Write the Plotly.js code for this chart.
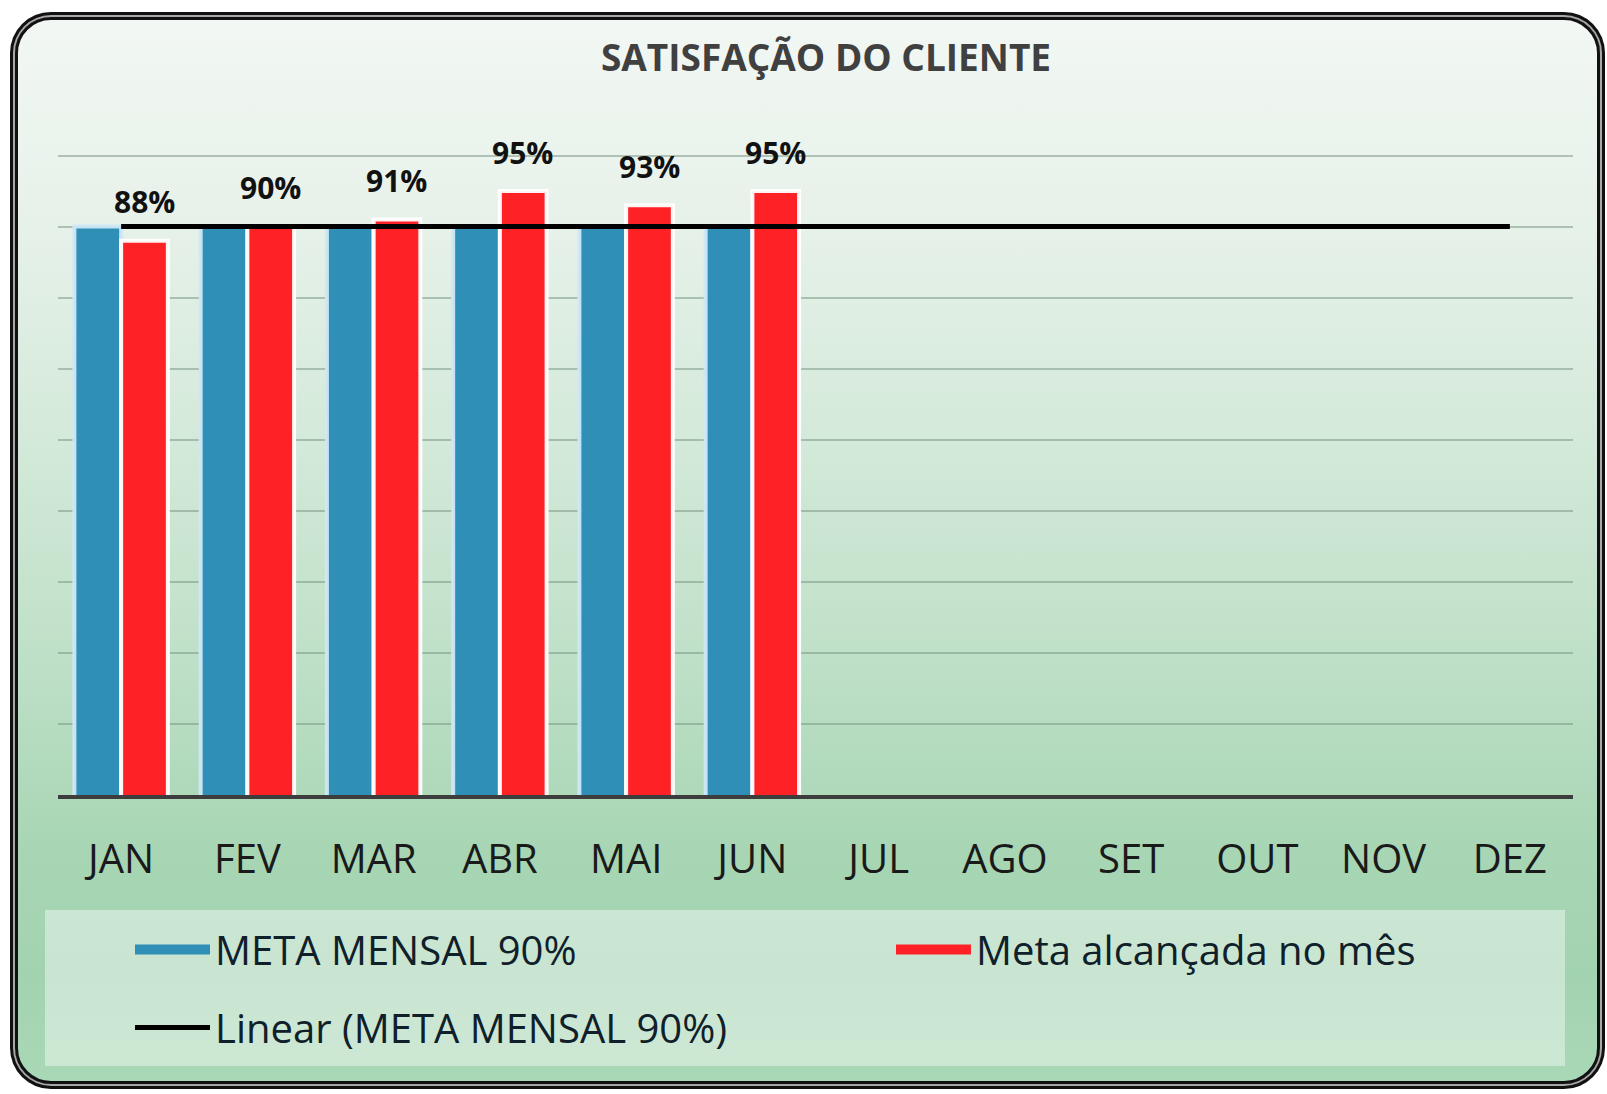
<!DOCTYPE html>
<html>
<head>
<meta charset="utf-8">
<script src="https://cdn.plot.ly/plotly-3.0.1.min.js"></script>
<style>
  html, body { margin: 0; padding: 0; background: #ffffff; }
  #frame {
    position: absolute; left: 15px; top: 17px; width: 1579px; height: 1061px;
    border: 3px solid #111;
    border-radius: 36px;
    box-shadow: 0 0 0 2px #a8a8a8, 0 0 0 5px #111;
    background: linear-gradient(to bottom, #f2f7f3 0%, #e6f1e9 20%, #d3e9d9 40%, #bfe0c8 60%, #a8d6b4 78%, #a2d3b0 90%, #a9d8b6 100%);
  }
  #chart { position: absolute; left: 0; top: 0; width: 1607px; height: 1094px; }
</style>
</head>
<body>
<div id="frame"></div>
<div id="chart"></div>
<script>
const months = ["JAN","FEV","MAR","ABR","MAI","JUN","JUL","AGO","SET","OUT","NOV","DEZ"];
const metaMensal = [0.90, 0.90, 0.90, 0.90, 0.90, 0.90, null, null, null, null, null, null];
const metaAlcancada = [0.88, 0.90, 0.91, 0.95, 0.93, 0.95, null, null, null, null, null, null];
const trendLinear = [0.90, 0.90, 0.90, 0.90, 0.90, 0.90, 0.90, 0.90, 0.90, 0.90, 0.90, 0.90];
const seriesNames = ["META MENSAL 90%", "Meta alcançada no mês", "Linear (META MENSAL 90%)"];
const chartTitle = "SATISFAÇÃO DO CLIENTE";

const BLUE = "#2f8fb6", RED = "#fe2226";
const legendFont = { family: "Open Sans, sans-serif", size: 40, color: "#10202a" };

const traces = [
  {
    type: "bar", x: months, y: metaMensal, name: seriesNames[0], showlegend: false,
    marker: { color: BLUE, line: { color: "rgba(205,232,248,0.95)", width: 4 } },
    hoverinfo: "x+y"
  },
  {
    type: "bar", x: months, y: metaAlcancada, name: seriesNames[1], showlegend: false,
    marker: { color: RED, line: { color: "rgba(255,255,255,0.95)", width: 4 } },
    hoverinfo: "x+y"
  },
  {
    type: "scatter", mode: "lines", x: months, y: trendLinear, name: seriesNames[2],
    line: { color: "#000000", width: 5 },
    legend: "legend3", hoverinfo: "x+y"
  },
  // legend swatches for the two bar series (no visible points of their own)
  {
    type: "scatter", mode: "lines", x: [months[0]], y: [null], name: seriesNames[0],
    line: { color: BLUE, width: 22 }, legend: "legend", hoverinfo: "skip", showlegend: true
  },
  {
    type: "scatter", mode: "lines", x: [months[0]], y: [null], name: seriesNames[1],
    line: { color: RED, width: 22 }, legend: "legend2", hoverinfo: "skip", showlegend: true
  }
];

const annotations = metaAlcancada.map((v, i) => v === null ? null : ({
  x: i, y: v, xref: "x", yref: "y",
  text: Math.round(v * 100) + "%",
  showarrow: false, xanchor: "center", yanchor: "middle",
  xshift: 23, yshift: 39,
  font: { family: "Open Sans, sans-serif", size: 30, color: "#111111", weight: "bold" }
})).filter(a => a !== null);

const layout = {
  width: 1607, height: 1094,
  paper_bgcolor: "rgba(0,0,0,0)", plot_bgcolor: "rgba(0,0,0,0)",
  margin: { l: 58, r: 34, t: 152, b: 299, pad: 0 },
  title: {
    text: "<b>" + chartTitle + "</b>",
    x: 0.514, xanchor: "center", xref: "container",
    y: 0.947, yanchor: "middle", yref: "container",
    font: { family: "Open Sans, sans-serif", size: 37, color: "#404040" }
  },
  barmode: "group", bargap: 0.26, bargroupgap: 0,
  xaxis: {
    type: "category", range: [-0.5, 11.5], automargin: false,
    showgrid: false, showline: true, linecolor: "#3d3d3d", linewidth: 3.5,
    ticks: "", ticklabelstandoff: 26,
    tickfont: { family: "Open Sans, sans-serif", size: 40, color: "#1a1a1a" },
    fixedrange: true
  },
  yaxis: {
    range: [0.1, 1.005], dtick: 0.1, tick0: 0, automargin: false,
    showticklabels: false, ticks: "", zeroline: false,
    showgrid: true, gridcolor: "rgba(115,145,125,0.5)", gridwidth: 2,
    showline: false, fixedrange: true
  },
  showlegend: true,
  legend: {
    orientation: "h", x: (130 - 58) / 1515, y: -0.1897, xanchor: "left", yanchor: "top",
    itemwidth: 75, bgcolor: "rgba(0,0,0,0)", font: legendFont
  },
  legend2: {
    orientation: "h", x: (891 - 58) / 1515, y: -0.1897, xanchor: "left", yanchor: "top",
    itemwidth: 75, bgcolor: "rgba(0,0,0,0)", font: legendFont
  },
  legend3: {
    orientation: "h", x: (130 - 58) / 1515, y: -0.311, xanchor: "left", yanchor: "top",
    itemwidth: 75, bgcolor: "rgba(0,0,0,0)", font: legendFont
  },
  shapes: [
    { type: "rect", xref: "paper", yref: "paper", layer: "below",
      x0: (45 - 58) / 1515, x1: (1565 - 58) / 1515, y0: (795 - 1066) / 643, y1: (795 - 910) / 643,
      fillcolor: "rgba(255,255,255,0.42)", line: { width: 0 } }
  ],
  annotations: annotations
};

Plotly.newPlot("chart", traces, layout, { displayModeBar: false, staticPlot: true });
</script>
</body>
</html>
